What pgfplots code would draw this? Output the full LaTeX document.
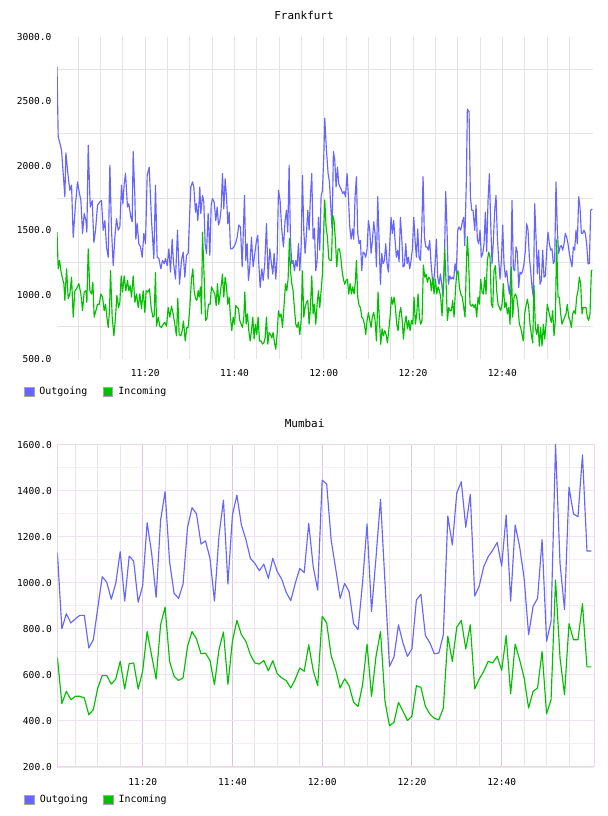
\documentclass[border=0pt]{standalone}
\usepackage{pgfplots}
\pgfplotsset{compat=1.18}
\usepackage{pgfplotstable}
\usepackage{fontspec}
\setmainfont{DejaVu Sans Mono}

\definecolor{outgoing}{HTML}{6666FF}
\definecolor{incoming}{HTML}{00C000}
\definecolor{gridgray}{HTML}{E4E4E4}
\definecolor{mframe}{HTML}{E8D8E8}
\definecolor{mmajor}{HTML}{DCC6DC}
\definecolor{mminor}{HTML}{ECE4EC}
\definecolor{mhmajor}{HTML}{F0E2F0}
\definecolor{mhminor}{HTML}{F2EEF2}

% Frankfurt, outgoing traffic (minutes after 11:00, value)
\pgfplotstableread{
t v
0.25 2770
0.52 2225
0.90 2175
1.27 2120
1.64 1940
2.01 1760
2.24 2100
2.76 1915
3.13 1810
3.51 1850
3.88 1445
4.40 1705
4.85 1875
5.15 1810
5.60 1730
5.97 1475
6.34 1630
6.72 1575
6.94 1485
7.24 2160
7.69 1680
8.13 1730
8.51 1405
8.88 1500
9.33 1695
9.85 1720
10.22 1730
10.60 1500
10.97 1575
11.34 1370
11.72 1290
12.09 2005
12.46 1500
12.84 1225
13.21 1445
13.58 1590
13.96 1500
14.33 1525
14.70 1850
15.00 1705
15.30 1860
15.60 1940
16.04 1680
16.34 1705
16.79 1600
17.09 1565
17.31 2110
17.69 1760
17.91 1430
18.21 1550
18.58 1395
18.96 1370
19.33 1290
19.70 1475
20.07 1395
20.45 1925
20.90 1990
21.42 1575
21.94 1280
22.31 1850
22.69 1290
23.06 1280
23.51 1200
23.88 1265
24.25 1240
24.55 1280
24.93 1225
25.30 1355
25.67 1175
26.04 1430
26.34 1250
26.79 1120
27.24 1500
27.69 1080
28.13 1265
28.51 1330
28.88 1135
29.25 1305
29.63 1320
30.00 1655
30.22 1835
30.60 1875
30.90 1835
31.27 1640
31.49 1705
31.79 1575
32.09 1730
32.24 1835
32.46 1630
32.84 1770
33.13 1720
33.43 1395
33.73 1320
34.10 1630
34.48 1305
34.78 1695
35.07 1745
35.45 1720
35.82 1575
36.12 1680
36.42 1540
36.72 1575
37.01 1665
37.31 1940
37.61 1665
37.91 1900
38.21 1760
38.51 1550
38.81 1640
39.10 1355
39.48 1355
39.85 1370
40.22 1395
40.60 1445
40.97 1540
41.34 1525
41.72 1215
41.94 1445
42.24 1770
42.54 1265
42.84 1395
43.13 1110
43.43 1215
43.81 1445
44.18 1215
44.55 1320
44.93 1420
45.22 1460
45.45 1240
45.75 1055
46.12 1200
46.42 1110
46.79 1240
47.16 1550
47.54 1120
47.91 1355
48.28 1240
48.58 1160
48.88 1320
49.25 1120
49.55 1290
49.85 1810
50.22 1730
50.60 1500
50.97 1370
51.34 1575
51.64 1655
51.94 1485
52.24 2005
52.54 1420
52.84 1240
53.13 1265
53.43 1185
53.73 1265
54.03 1215
54.33 1395
54.63 1185
54.93 1370
55.22 1925
55.52 1500
55.82 1320
56.12 1475
56.42 1655
56.72 1500
57.01 1760
57.31 1940
57.61 1430
57.91 1515
58.21 1185
58.51 1265
58.81 1600
59.10 1345
59.40 1760
59.70 1810
60.00 2070
60.22 2370
60.60 2120
60.97 1940
61.27 1875
61.57 1680
61.87 1510
62.16 2110
62.46 2045
62.76 1835
63.06 1990
63.36 1860
63.66 1835
63.96 1810
64.25 1785
64.55 1800
64.85 1760
65.22 1940
65.52 1760
65.82 1525
66.12 1430
66.42 1510
66.72 1430
67.01 1760
67.31 1915
67.61 1475
67.91 1395
68.21 1420
68.51 1185
68.81 1330
69.10 1320
69.40 1290
69.70 1355
70.00 1575
70.30 1500
70.60 1320
70.90 1420
71.19 1565
71.49 1475
71.79 1215
72.09 1760
72.39 1420
72.69 1080
72.99 1320
73.28 1240
73.58 1265
73.88 1395
74.18 1240
74.48 1175
74.78 1395
75.07 1600
75.37 1475
75.67 1575
75.97 1420
76.27 1290
76.57 1345
76.87 1255
77.16 1600
77.46 1445
77.76 1215
78.06 1225
78.36 1395
78.66 1240
78.96 1290
79.25 1200
79.55 1265
79.85 1355
80.15 1600
80.45 1420
80.75 1290
81.04 1510
81.34 1290
81.64 1265
81.94 1500
82.24 1915
82.54 1445
82.84 1370
83.13 1370
83.43 1345
83.73 1420
84.03 1240
84.33 1120
84.63 1095
84.93 1240
85.22 1430
85.52 1135
85.82 1080
86.12 1160
86.42 1080
86.72 990
87.01 1240
87.31 1800
87.61 1500
87.91 1080
88.21 1145
88.51 1120
88.81 1135
89.10 1120
89.40 1240
89.70 1175
90.00 1500
90.30 1525
90.67 1500
91.04 1565
91.34 1600
91.57 1380
91.94 1890
92.16 2440
92.54 2420
92.84 1760
93.13 1655
93.43 1655
93.81 1500
94.10 1695
94.40 1430
94.70 1395
95.00 1500
95.30 1290
95.60 1320
95.90 1395
96.19 1640
96.49 1335
96.79 1730
97.09 1940
97.39 1550
97.69 1240
97.99 1420
98.28 1655
98.58 1770
98.88 1445
99.18 1265
99.48 1120
99.78 1265
100.07 1540
100.37 1240
100.67 1135
100.97 1185
101.27 1080
101.57 1005
101.87 1135
102.16 1730
102.46 1200
102.76 1185
103.06 1370
103.36 1330
103.66 1055
103.96 1175
104.25 1160
104.55 1185
104.85 1240
105.15 1345
105.45 1550
105.75 1500
106.04 1290
106.34 1185
106.64 1055
106.94 980
107.24 1705
107.54 1445
107.84 1160
108.13 1345
108.43 1080
108.73 1110
109.03 1345
109.33 1135
109.63 1145
109.93 1345
110.22 1485
110.52 1395
110.82 1345
111.12 1355
111.42 1240
111.72 1265
112.01 1875
112.31 1500
112.61 1320
112.91 1370
113.21 1380
113.51 1345
113.81 1395
114.10 1475
114.40 1445
114.70 1395
115.00 1320
115.30 1265
115.60 1215
115.90 1370
116.19 1345
116.49 1500
116.79 1395
117.09 1760
117.39 1680
117.69 1475
117.99 1475
118.28 1500
118.58 1475
118.88 1395
119.18 1240
119.48 1240
119.78 1655
120.15 1665
}\frankout

% Frankfurt, incoming traffic
\pgfplotstableread{
t v
0.25 1485
0.52 1200
0.82 1265
1.12 1185
1.42 1135
1.79 1085
2.01 955
2.39 1200
2.76 970
3.13 1005
3.51 1135
3.88 825
4.25 1030
4.63 1045
5.15 1085
5.60 1005
5.97 875
6.34 1020
6.72 1030
6.94 940
7.24 1355
7.61 1030
7.99 1005
8.28 1095
8.58 825
8.96 875
9.33 925
9.70 925
10.07 1005
10.45 980
10.82 875
11.12 925
11.42 825
11.72 745
12.01 875
12.24 1185
12.61 825
12.99 680
13.36 825
13.66 995
14.03 900
14.33 940
14.63 1145
14.93 1020
15.30 1145
15.67 1030
16.04 1110
16.34 1030
16.64 1070
16.94 980
17.31 1145
17.69 940
18.06 1005
18.43 900
18.81 1005
19.18 890
19.55 1030
19.93 860
20.22 1030
20.60 1020
20.97 1045
21.34 900
21.72 825
22.01 835
22.31 1170
22.54 755
22.91 825
23.28 755
23.66 745
24.03 770
24.40 785
24.78 755
25.15 900
25.52 825
25.90 910
26.27 850
26.64 770
27.01 680
27.31 970
27.61 690
27.99 680
28.28 720
28.58 795
28.96 640
29.33 745
29.63 745
30.00 900
30.37 1120
30.67 1200
30.97 1030
31.27 970
31.57 955
31.87 1030
32.09 980
32.39 1060
32.61 850
32.84 1485
33.21 1135
33.51 800
33.81 810
34.18 925
34.55 925
34.85 1060
35.22 1030
35.60 1005
35.90 915
36.19 1085
36.49 925
36.79 1005
37.09 1085
37.31 1160
37.61 980
37.91 1135
38.21 1060
38.51 925
38.81 980
39.10 825
39.40 720
39.70 825
40.00 770
40.30 915
40.60 900
40.90 890
41.19 800
41.49 770
41.79 745
42.09 825
42.31 1020
42.61 770
42.91 850
43.21 720
43.51 640
43.81 720
44.10 825
44.40 655
44.70 770
45.00 690
45.30 825
45.60 640
45.97 640
46.27 615
46.57 625
46.87 665
47.16 825
47.46 615
47.76 705
48.06 690
48.36 665
48.66 705
48.96 625
49.25 575
49.55 690
49.85 875
50.15 825
50.45 850
50.75 745
51.12 925
51.42 1085
51.72 1030
52.01 1120
52.31 1435
52.54 1185
52.84 1085
53.13 1030
53.43 890
53.73 770
54.03 745
54.33 785
54.63 690
54.93 800
55.22 1185
55.52 825
55.82 900
56.12 940
56.42 955
56.72 770
57.01 900
57.31 1145
57.61 850
57.91 925
58.21 770
58.51 925
58.81 1030
59.10 900
59.40 1030
59.70 1160
60.00 1500
60.22 1735
60.52 1525
60.82 1445
61.12 1280
61.42 1265
61.72 1265
62.01 1615
62.31 1575
62.61 1420
62.91 1215
63.21 1355
63.51 1355
63.81 1290
64.10 1185
64.40 1120
64.70 1080
65.00 1110
65.30 1120
65.60 1005
65.90 1085
66.19 1005
66.49 1060
66.79 1005
67.09 1110
67.31 1265
67.61 980
67.91 915
68.21 900
68.51 825
68.81 810
69.10 770
69.40 690
69.70 800
70.00 860
70.30 800
70.60 745
70.90 835
71.19 860
71.49 800
71.79 640
72.16 1020
72.46 800
72.76 615
73.06 735
73.36 680
73.66 720
73.96 690
74.25 625
74.55 720
74.85 825
75.15 980
75.45 925
75.75 980
76.04 900
76.34 770
76.64 720
76.94 850
77.24 900
77.54 810
77.84 655
78.13 770
78.43 835
78.73 735
79.03 800
79.33 720
79.63 800
79.93 770
80.22 980
80.52 770
80.82 850
81.12 1005
81.42 825
81.72 770
82.01 800
82.31 1230
82.61 1135
82.91 1160
83.21 1095
83.51 1135
83.81 1120
84.10 1030
84.40 1135
84.70 1005
85.00 1120
85.30 1005
85.60 1060
85.90 1030
86.19 980
86.49 835
86.79 1060
87.09 1355
87.39 1095
87.69 800
87.99 900
88.28 875
88.58 875
88.88 955
89.18 825
89.48 1030
89.78 1170
90.07 1185
90.37 1060
90.67 1005
91.04 980
91.34 900
91.64 825
91.94 1240
92.16 1450
92.46 1240
92.76 925
93.06 910
93.36 925
93.66 900
93.96 925
94.25 825
94.55 980
94.85 925
95.15 1120
95.45 1020
95.75 1005
96.04 1135
96.34 1005
96.64 1265
96.94 1330
97.24 1290
97.54 925
97.84 900
98.13 1185
98.43 1225
98.73 1030
99.03 925
99.33 900
99.63 875
99.93 925
100.22 1085
100.52 900
100.82 940
101.12 850
101.42 900
101.72 770
102.01 1215
102.31 825
102.61 980
102.91 1005
103.21 980
103.51 900
103.81 770
104.10 745
104.40 690
104.70 640
105.00 850
105.30 915
105.60 965
105.90 900
106.19 770
106.49 690
106.79 625
107.09 1070
107.39 745
107.69 690
107.99 770
108.28 600
108.58 745
108.88 600
109.18 770
109.48 655
109.78 770
110.07 925
110.37 875
110.67 825
110.97 785
111.27 875
111.57 680
111.87 800
112.16 1425
112.46 980
112.76 980
113.06 850
113.36 770
113.66 800
113.96 825
114.25 850
114.55 925
114.85 825
115.15 800
115.45 745
115.75 850
116.04 875
116.34 850
116.64 980
116.94 1030
117.24 1135
117.54 1085
117.84 850
118.13 900
118.43 900
118.73 900
119.03 825
119.33 800
119.63 850
119.93 1185
120.15 1190
}\frankin

% Mumbai, one sample a minute: outgoing and incoming
\pgfplotstableread{
t out in
1 1131 675
2 800 474
3 865 528
4 825 491
5 843 506
6 858 506
7 858 499
8 716 426
9 752 448
10 890 542
11 1026 597
12 1002 596
13 928 559
14 997 581
15 1135 658
16 920 538
17 1116 648
18 1094 651
19 915 538
20 987 615
21 1261 788
22 1128 683
23 936 581
24 1272 817
25 1396 894
26 1091 658
27 954 593
28 932 575
29 994 586
30 1241 723
31 1326 788
32 1299 755
33 1168 691
34 1182 694
35 1106 662
36 920 556
37 1203 709
38 1359 786
39 994 558
40 1294 745
41 1381 836
42 1251 774
43 1188 745
44 1106 687
45 1084 651
46 1052 646
47 1081 662
48 1019 617
49 1106 661
50 1048 604
51 1015 586
52 957 574
53 922 542
54 997 580
55 1062 629
56 1044 615
57 1258 730
58 1070 619
59 968 552
60 1446 854
61 1429 825
62 1186 683
63 1062 622
64 932 542
65 997 582
66 961 553
67 822 480
68 796 462
69 1000 556
70 1255 733
71 875 506
72 1110 680
73 1362 788
74 1000 484
75 636 378
76 677 393
77 817 480
78 738 441
79 680 401
80 712 419
81 925 552
82 950 545
83 771 462
84 738 429
85 691 410
86 694 404
87 774 455
88 1290 767
89 1164 658
90 1391 807
91 1439 836
92 1241 712
93 1384 817
94 942 538
95 986 581
96 1070 615
97 1113 658
98 1142 651
99 1175 680
100 1072 619
101 1294 770
102 920 517
103 1251 733
104 1157 665
105 1019 586
106 774 455
107 897 528
108 932 542
109 1188 701
110 745 430
111 832 491
112 1600 1012
113 1084 673
114 883 513
115 1415 822
116 1299 752
117 1287 752
118 1555 909
119 1138 634
120 1138 634
}\mumbai

\pgfplotsset{
  traffic/.style={
    scale only axis,
    width=536bp, height=322bp,
    anchor=south west,
    xtick={20,40,60,80,100},
    xticklabels={11:20,11:40,12:00,12:20,12:40},
    minor xtick={5,10,...,115},
    major tick length=0pt, minor tick length=0pt,
    /pgf/number format/assume math mode=true,
    yticklabel style={/pgf/number format/fixed,
      /pgf/number format/fixed zerofill,
      /pgf/number format/precision=1,
      /pgf/number format/1000 sep={}},
    tick label style={font=\fontsize{9.6}{11}\selectfont, text=black},
    xticklabel style={yshift=-7bp},
    yticklabel style={xshift=-2bp},
    title style={font=\fontsize{11}{13}\selectfont, anchor=base,
      at={(axis description cs:0.5,1)}, xshift=-21bp, yshift=12bp},
    legend columns=2,
    legend cell align=left,
    legend style={draw=none, fill=none, inner sep=0pt,
      at={(axis description cs:0,0)}, anchor=north west,
      xshift=-33bp, yshift=-26bp,
      font=\fontsize{10}{12}\selectfont,
      nodes={inner sep=2bp},
      /tikz/every odd column/.append style={column sep=3bp},
      /tikz/every even column/.append style={column sep=13.5bp}},
    legend image code/.code={
      \draw[##1, draw=gray!70, fill, line width=0.8bp]
        (0bp,-4.5bp) rectangle (9.5bp,4.5bp);},
    every axis plot/.append style={line width=1.15bp, line join=round},
  },
}

\begin{document}
\begin{tikzpicture}
\path[use as bounding box] (0,0) rectangle (608bp,816bp);

\begin{axis}[traffic,
  at={(57bp,457bp)},
  title={Frankfurt},
  xmin=0.25, xmax=120.3,
  ymin=500, ymax=3000,
  ytick={500,1000,...,3000},
  minor ytick={750,1250,...,2750},
  xmajorgrids, xminorgrids, yminorgrids,
  major grid style={gridgray, line width=0.9bp},
  minor grid style={gridgray, line width=0.9bp},
  axis line style={draw=none},
]
\addplot[outgoing] table[x=t, y=v] {\frankout};
\addlegendentry{Outgoing}
\addplot[incoming] table[x=t, y=v] {\frankin};
\addlegendentry{Incoming}
\end{axis}

\begin{axis}[traffic,
  at={(57.3bp,49.3bp)},
  width=536.7bp,
  title={Mumbai},
  title style={yshift=-0.6bp},
  xmin=0.98, xmax=120.57,
  ymin=200, ymax=1600,
  ytick={200,400,...,1600},
  minor ytick={300,500,...,1500},
  grid=both,
  every major x grid/.append style={mmajor, line width=0.9bp},
  every minor x grid/.append style={mminor, line width=0.9bp},
  every major y grid/.append style={mhmajor, line width=1.6bp},
  every minor y grid/.append style={mhminor, line width=1.2bp},
  axis line style={mframe, line width=1bp},
  xticklabel style={yshift=-1bp},
]
\addplot[outgoing] table[x=t, y=out] {\mumbai};
\addlegendentry{Outgoing}
\addplot[incoming] table[x=t, y=in] {\mumbai};
\addlegendentry{Incoming}
\end{axis}
\end{tikzpicture}
\end{document}
